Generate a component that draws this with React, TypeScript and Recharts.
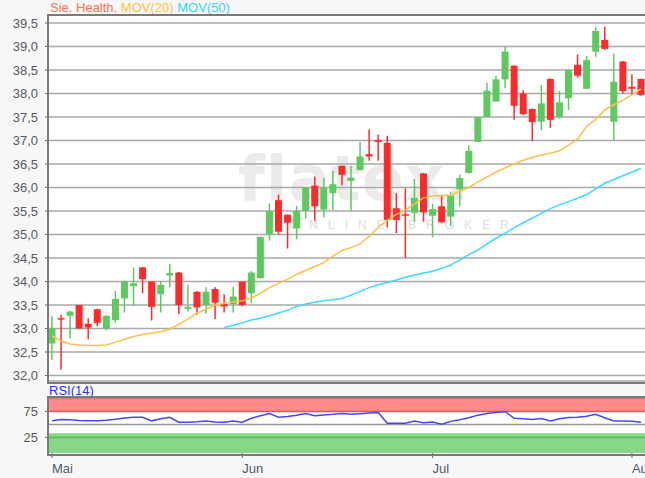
import React from "react";
import {
  ComposedChart,
  Bar,
  Line,
  XAxis,
  YAxis,
  CartesianGrid,
  ReferenceArea,
  ReferenceLine,
} from "recharts";

// daily candles, 2 May .. 2 Aug
const OPEN = [
  32.68, 33.22, 33.27, 33.5, 33.1, 33.41, 33.0, 33.18, 33.64, 33.9, 34.3, 34.0, 33.73, 34.13,
  34.19, 33.42, 33.78, 33.5, 33.84, 33.52, 33.52, 34.0, 33.75, 34.07, 35.01, 35.73, 35.42, 35.13,
  35.5, 36.04, 35.53, 35.88, 36.46, 36.14, 36.37, 36.71, 37.01, 36.95, 35.56, 35.43, 35.46, 36.3,
  35.4, 35.6, 35.38, 35.96, 36.31, 36.97, 37.5, 37.83, 38.3, 38.59, 38.0, 37.67, 37.4, 38.31,
  37.5, 37.9, 38.61, 38.1, 38.89, 39.14, 37.4, 38.68, 38.14, 38.31,
];
const HIGH = [
  33.27, 33.29, 33.38, 33.5, 33.22, 33.42, 33.28, 33.8, 34.02, 34.3, 34.31, 34.0, 34.0, 34.38,
  34.2, 33.93, 33.8, 33.88, 33.88, 33.73, 33.89, 34.0, 34.22, 34.95, 35.66, 35.85, 35.43, 35.61,
  36.0, 36.23, 36.2, 36.35, 36.47, 36.46, 36.97, 37.24, 37.12, 37.1, 35.88, 35.98, 36.19, 36.31,
  35.65, 35.83, 35.91, 36.27, 36.9, 37.5, 38.23, 38.37, 39.0, 38.6, 38.07, 37.68, 38.18, 38.32,
  38.05, 38.51, 38.83, 38.8, 39.42, 39.42, 38.85, 38.69, 38.41, 38.32,
];
const LOW = [
  32.33, 32.12, 32.79, 33.0, 32.77, 33.05, 32.96, 33.12, 33.34, 33.48, 33.75, 33.17, 33.34, 33.88,
  33.31, 33.36, 33.29, 33.32, 33.2, 33.34, 33.34, 33.47, 33.54, 34.07, 34.87, 35.0, 34.7, 34.9,
  35.34, 35.28, 35.36, 35.52, 36.05, 35.5, 36.36, 36.57, 36.57, 35.15, 35.03, 34.5, 35.27, 35.27,
  34.94, 35.24, 35.18, 35.6, 36.3, 36.97, 37.5, 37.83, 38.11, 37.44, 37.54, 36.99, 37.22, 37.27,
  37.47, 37.65, 38.34, 38.1, 38.78, 38.93, 37.01, 38.0, 37.98, 37.95,
];
const CLOSE = [
  33.0, 33.19, 33.36, 33.0, 33.02, 33.12, 33.27, 33.63, 34.0, 33.96, 34.05, 33.46, 33.93, 34.18,
  33.5, 33.46, 33.45, 33.78, 33.55, 33.47, 33.68, 33.5, 34.19, 34.95, 35.5, 35.06, 35.25, 35.5,
  36.0, 35.6, 36.0, 36.07, 36.27, 36.21, 36.66, 36.66, 36.97, 35.31, 35.31, 35.4, 35.78, 35.47,
  35.54, 35.26, 35.83, 36.2, 36.78, 37.5, 38.06, 38.3, 38.89, 37.74, 37.56, 37.39, 37.79, 37.44,
  37.81, 38.5, 38.38, 38.71, 39.33, 38.95, 38.25, 38.05, 38.1, 37.97,
];
const MA20 = [
  32.84, 32.74, 32.67, 32.65, 32.64, 32.64, 32.65, 32.71, 32.77, 32.83, 32.87, 32.9, 32.93, 32.99,
  33.09, 33.2, 33.33, 33.41, 33.5, 33.53, 33.57, 33.59, 33.65, 33.75, 33.87, 33.96, 34.05, 34.15,
  34.24, 34.32, 34.4, 34.54, 34.66, 34.72, 34.8, 34.96, 35.15, 35.3, 35.43, 35.52, 35.65, 35.78,
  35.82, 35.83, 35.84, 35.92, 36.0, 36.12, 36.22, 36.33, 36.42, 36.5, 36.58, 36.64, 36.69, 36.73,
  36.78, 36.9, 37.03, 37.3, 37.45, 37.65, 37.76, 37.86, 37.97, 38.1,
];
const MA50 = [
  null, null, null, null, null, null, null, null, null, null, null, null, null, null,
  null, null, null, null, null, 33.02, 33.07, 33.12, 33.18, 33.22, 33.27, 33.33, 33.39, 33.47,
  33.52, 33.56, 33.59, 33.61, 33.64, 33.71, 33.79, 33.87, 33.93, 33.98, 34.03, 34.09, 34.14, 34.18,
  34.22, 34.28, 34.35, 34.46, 34.57, 34.67, 34.8, 34.92, 35.03, 35.14, 35.25, 35.35, 35.45, 35.55,
  35.63, 35.7, 35.77, 35.85, 35.97, 36.09, 36.17, 36.25, 36.33, 36.41,
];
const RSI = [
  57.4, 59.5, 59, 57.5, 57.4, 57.4, 58, 60, 62.5, 64, 64, 57, 61, 64,
  54.3, 54.3, 55.2, 56.8, 55, 54.3, 56.8, 54.3, 62, 67, 71, 64, 65.5, 68,
  71, 67, 68.5, 69.5, 71, 69.5, 70.7, 72, 73, 52.3, 52.3, 52.3, 56.8, 53.5,
  54.8, 50.5, 56, 59, 63, 68, 71, 73, 75, 62, 61, 59.4, 61.3, 56.8,
  61, 63.5, 64, 66, 69.5, 63, 56.8, 56.8, 56, 54.3,
];

const PRICE_TICKS = [32, 32.5, 33, 33.5, 34, 34.5, 35, 35.5, 36, 36.5, 37, 37.5, 38, 38.5, 39, 39.5];
const RSI_TICKS = [25, 75];
const MONTH_TICKS = [0, 21, 42, 64];
const MONTH_LABELS = ["Mai", "Jun", "Jul", "Aug"];

const GREEN = "#5fc95f";
const RED = "#ff2b2b";
const X_DOMAIN = [-0.44, 65.66];

const data = OPEN.map((o, i) => ({
  i,
  o,
  h: HIGH[i],
  l: LOW[i],
  c: CLOSE[i],
  range: [LOW[i], HIGH[i]],
  ma20: MA20[i],
  ma50: MA50[i],
  rsi: RSI[i],
}));

const Candle = (props: any) => {
  const { x, y, width, height, payload } = props;
  if (x == null || y == null || !payload) return null;
  const top = Math.min(y, y + height);
  const span = Math.abs(height);
  const { o, h, l, c } = payload;
  const toY = (v: number) => (h === l ? top : top + ((h - v) / (h - l)) * span);
  const color = c >= o ? GREEN : RED;
  const cx = x + width / 2;
  const bTop = toY(Math.max(o, c));
  const bBot = toY(Math.min(o, c));
  return (
    <g>
      <line x1={cx} x2={cx} y1={top} y2={top + span} stroke={color} strokeWidth={1.5} />
      <rect x={x} y={bTop} width={width} height={Math.max(bBot - bTop, 1.5)} fill={color} />
    </g>
  );
};

const MonthTick = (props: any) => {
  const { x, y, payload } = props;
  const idx = MONTH_TICKS.indexOf(payload.value);
  return (
    <text x={x} y={y + 13} textAnchor="start" fill="#4b5b70" fontSize={13}>
      {MONTH_LABELS[idx]}
    </text>
  );
};

const fmtPrice = (v: number) => v.toFixed(1).replace(".", ",");

export default function App() {
  return (
    <div
      style={{
        position: "absolute",
        left: 0,
        top: 0,
        width: 645,
        height: 478,
        overflow: "hidden",
        background: "#f7f7f7",
        fontFamily: "'Liberation Sans', Arial, sans-serif",
      }}
    >
      {/* plot backgrounds */}
      <div style={{ position: "absolute", left: 48, top: 15, width: 610, height: 366, background: "#fff" }} />
      <div style={{ position: "absolute", left: 48, top: 397, width: 610, height: 56, background: "#fff" }} />

      {/* watermark */}
      <div
        style={{
          position: "absolute",
          left: 238,
          top: 142,
          fontSize: 62,
          fontWeight: "bold",
          letterSpacing: 1,
          color: "#ebebeb",
          fontFamily: "'DejaVu Sans', sans-serif",
          whiteSpace: "nowrap",
        }}
      >
        flatex.
      </div>
      <div
        style={{
          position: "absolute",
          left: 290,
          top: 218,
          fontSize: 12,
          letterSpacing: 10,
          color: "#dddddd",
          whiteSpace: "nowrap",
        }}
      >
        ONLINE BROKER
      </div>

      {/* title */}
      <div style={{ position: "absolute", left: 50, top: 0, fontSize: 13, whiteSpace: "nowrap" }}>
        <span style={{ color: "#ff7050" }}>Sie. Health.</span>{" "}
        <span style={{ color: "#ffc23c" }}>MOV(20)</span>{" "}
        <span style={{ color: "#36d4ff" }}>MOV(50)</span>
      </div>

      <div style={{ position: "absolute", left: 0, top: 0 }}>
        <ComposedChart width={660} height={382} data={data} margin={{ top: 15, right: 13, bottom: 1, left: 0 }}>
          <CartesianGrid horizontal vertical={false} stroke="#a9a9a9" strokeWidth={1.5} />
          <XAxis dataKey="i" type="number" domain={X_DOMAIN} allowDataOverflow hide />
          <YAxis
            type="number"
            domain={[31.883, 39.67]}
            allowDataOverflow
            ticks={PRICE_TICKS}
            interval={0}
            width={48}
            tickFormatter={fmtPrice}
            tick={{ fontSize: 13, fill: "#5a5a5a" }}
            tickLine={{ stroke: "#666" }}
            tickSize={3}
            tickMargin={7}
            axisLine={false}
          />
          <Bar dataKey="range" barSize={7} shape={<Candle />} isAnimationActive={false} />
          <Line
            type="linear"
            dataKey="ma20"
            stroke="#ffc04a"
            strokeWidth={1.5}
            dot={false}
            activeDot={false}
            isAnimationActive={false}
          />
          <Line
            type="linear"
            dataKey="ma50"
            stroke="#3fd8ff"
            strokeWidth={1.5}
            dot={false}
            activeDot={false}
            connectNulls={false}
            isAnimationActive={false}
          />
        </ComposedChart>
      </div>

      <div style={{ position: "absolute", left: 49, top: 383, fontSize: 13, color: "#2f2fff" }}>RSI(14)</div>

      <div style={{ position: "absolute", left: 0, top: 380 }}>
        <ComposedChart width={660} height={98} data={data} margin={{ top: 17, right: 13, bottom: 0, left: 0 }}>
          <ReferenceArea y1={75} y2={103} fill="#ff8a8a" fillOpacity={1} stroke="none" ifOverflow="hidden" />
          <ReferenceArea y1={-5} y2={33} fill="#88d888" fillOpacity={1} stroke="none" ifOverflow="hidden" />
          <ReferenceLine y={100} stroke="#e07474" strokeWidth={1.5} />
          <ReferenceLine y={75} stroke="#d45e5e" strokeWidth={1.5} />
          <ReferenceLine y={50} stroke="#9a9a9a" strokeWidth={1.5} />
          <ReferenceLine y={25} stroke="#5bb35b" strokeWidth={1.5} />
          <XAxis
            dataKey="i"
            type="number"
            domain={X_DOMAIN}
            allowDataOverflow
            ticks={MONTH_TICKS}
            interval={0}
            height={25}
            tick={<MonthTick />}
            tickLine={{ stroke: "#5b6b80" }}
            tickSize={5}
            axisLine={false}
          />
          <YAxis
            type="number"
            domain={[-5, 103]}
            allowDataOverflow
            ticks={RSI_TICKS}
            interval={0}
            width={48}
            tick={{ fontSize: 13, fill: "#5a5a5a" }}
            tickLine={{ stroke: "#666" }}
            tickSize={3}
            tickMargin={7}
            axisLine={false}
          />
          <Line
            type="linear"
            dataKey="rsi"
            stroke="#4545ff"
            strokeWidth={1.5}
            dot={false}
            activeDot={false}
            isAnimationActive={false}
          />
        </ComposedChart>
      </div>

      {/* panel frames */}
      <div style={{ position: "absolute", left: 47, top: 14, width: 620, height: 366, border: "2px solid #7a7a7a" }} />
      <div style={{ position: "absolute", left: 47, top: 396, width: 620, height: 56, border: "2px solid #7a7a7a" }} />
    </div>
  );
}
